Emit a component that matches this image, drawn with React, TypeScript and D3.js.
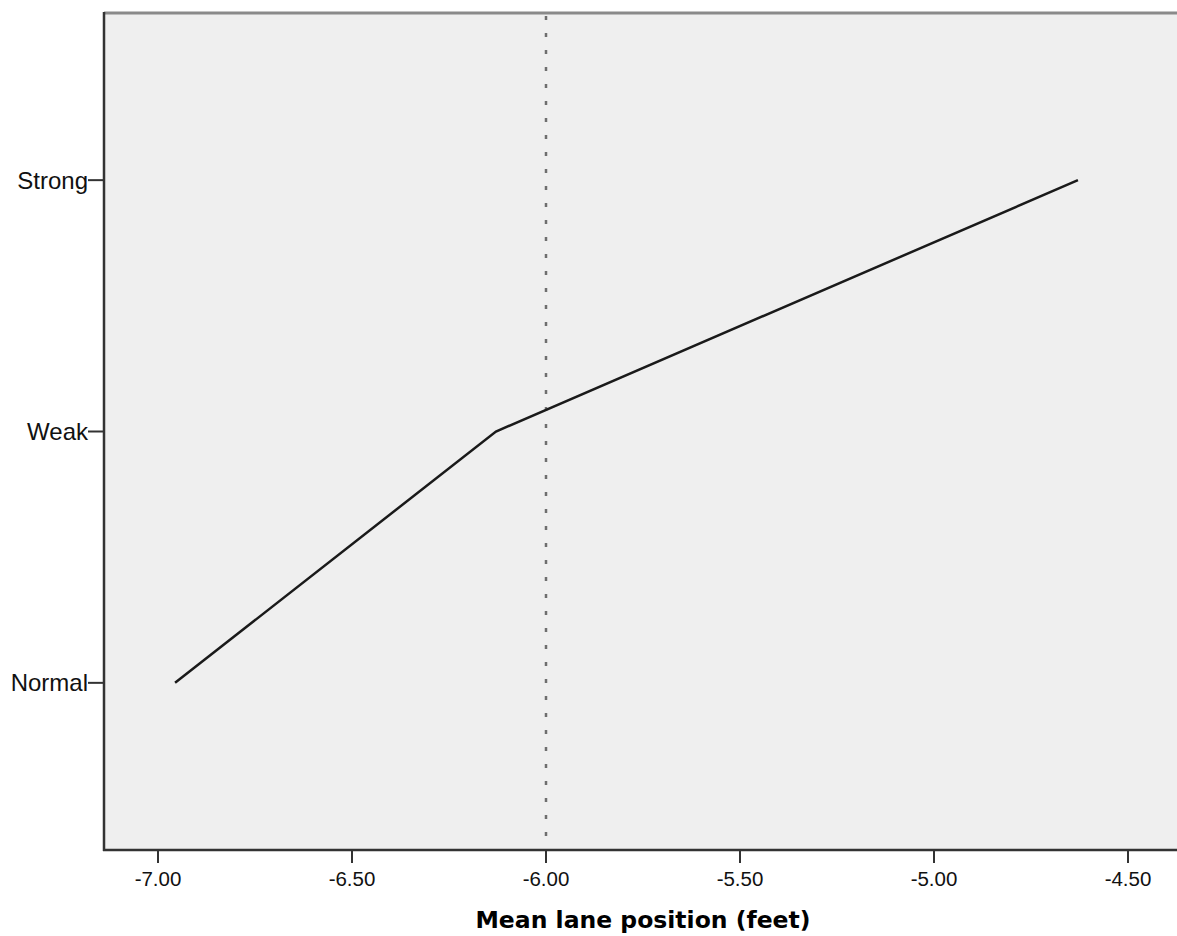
import { useEffect, useRef } from "react";
import * as d3 from "d3";

// categories on the y axis, bottom to top
const levels = ["Normal", "Weak", "Strong"];
// mean lane position (feet) for each level
const meanPos = [-6.956, -6.129, -4.629];
const xTicks = [-7.0, -6.5, -6.0, -5.5, -5.0, -4.5];
const refLine = -6.0;
const xTitle = "Mean lane position (feet)";

const W = 1177;
const H = 936;

const App = () => {
  const svgRef = useRef<SVGSVGElement>(null);

  useEffect(() => {
    const svg = d3.select(svgRef.current);
    svg.selectAll("*").remove();

    const left = 104;
    const right = 1182;
    const top = 13;
    const bottom = 850;

    const x = d3.scaleLinear().domain([-7.0, -4.5]).range([158, 1128]);
    const y = d3
      .scalePoint<string>()
      .domain(levels)
      .range([bottom, top])
      .padding(0.665);

    // plot background
    svg
      .append("rect")
      .attr("x", left)
      .attr("y", top)
      .attr("width", right - left)
      .attr("height", bottom - top)
      .attr("fill", "#efefef");

    // top frame line
    svg
      .append("line")
      .attr("x1", left)
      .attr("x2", right)
      .attr("y1", top)
      .attr("y2", top)
      .attr("stroke", "#8a8a8a")
      .attr("stroke-width", 3);

    // reference line
    svg
      .append("line")
      .attr("x1", x(refLine))
      .attr("x2", x(refLine))
      .attr("y1", top + 3)
      .attr("y2", bottom)
      .attr("stroke", "#6e6e6e")
      .attr("stroke-width", 2.5)
      .attr("stroke-dasharray", "4 13");

    // data line
    const line = d3
      .line<number>()
      .x((d) => x(d))
      .y((_, i) => y(levels[i]) as number);
    svg
      .append("path")
      .datum(meanPos)
      .attr("d", line)
      .attr("fill", "none")
      .attr("stroke", "#1a1a1a")
      .attr("stroke-width", 2.5);

    // x axis
    const gx = svg.append("g").attr("transform", `translate(0,${bottom})`);
    gx.append("line")
      .attr("x1", left - 1)
      .attr("x2", right)
      .attr("stroke", "#333")
      .attr("stroke-width", 2.5);
    const xt = gx
      .selectAll("g.tick")
      .data(xTicks)
      .join("g")
      .attr("transform", (d) => `translate(${x(d)},0)`);
    xt.append("line").attr("y1", 0).attr("y2", 13).attr("stroke", "#333").attr("stroke-width", 2);
    xt.append("text")
      .attr("y", 36)
      .attr("text-anchor", "middle")
      .attr("font-family", "Liberation Sans, Arial, sans-serif")
      .attr("font-size", 20.5)
      .attr("fill", "#111")
      .text((d) => d.toFixed(2));

    // y axis
    const gy = svg.append("g").attr("transform", `translate(${left},0)`);
    gy.append("line")
      .attr("y1", top - 1)
      .attr("y2", bottom + 1)
      .attr("stroke", "#333")
      .attr("stroke-width", 2.5);
    const yt = gy
      .selectAll("g.tick")
      .data(levels)
      .join("g")
      .attr("transform", (d) => `translate(0,${y(d)})`);
    yt.append("line").attr("x1", 0).attr("x2", -16).attr("stroke", "#333").attr("stroke-width", 2);
    yt.append("text")
      .attr("x", -16)
      .attr("dy", "0.36em")
      .attr("text-anchor", "end")
      .attr("font-family", "Liberation Sans, Arial, sans-serif")
      .attr("font-size", 24)
      .attr("fill", "#111")
      .text((d) => d);

    // axis title
    svg
      .append("text")
      .attr("x", 643)
      .attr("y", 928)
      .attr("text-anchor", "middle")
      .attr("font-family", "DejaVu Sans, sans-serif")
      .attr("font-weight", "bold")
      .attr("font-size", 23.5)
      .attr("fill", "#000")
      .text(xTitle);
  }, []);

  return (
    <svg
      ref={svgRef}
      width={W}
      height={H}
      style={{ position: "absolute", left: 0, top: 0, background: "#fff" }}
    />
  );
};

export default App;
